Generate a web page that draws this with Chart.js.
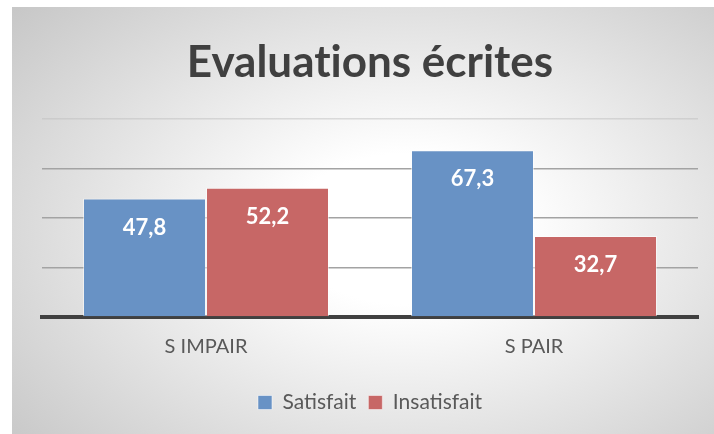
<!DOCTYPE html>
<html lang="fr">
<head>
  <meta charset="UTF-8">
  <title>Evaluations écrites</title>
  <script src="https://cdn.jsdelivr.net/npm/chart.js"></script>
  <style>
    body {
      margin: 0;
      width: 714px;
      height: 434px;
      overflow: hidden;
      position: relative;
      background: #fff;
    }
    .bg {
      position: absolute;
      left: 12px;
      top: 7px;
      width: 702px;
      height: 427px;
      background: radial-gradient(ellipse 75% 80% at 56% 52%, #ffffff 0%, #ffffff 22%, #c6c6c6 100%);
    }
    #chart {
      position: absolute;
      left: 0;
      top: 0;
    }
  </style>
</head>
<body>
  <div class="bg"></div>
  <canvas id="chart" width="714" height="434"></canvas>

  <script>
    const categories = ["S IMPAIR", "S PAIR"];
    const satisfait = [47.8, 67.3];
    const insatisfait = [52.2, 32.7];
    const yMax = 80;
    const yStep = 20;

    const fmt = v => v.toFixed(1).replace(".", ",");

    // white value labels inside the top of each bar
    const valueLabels = {
      id: "valueLabels",
      afterDatasetsDraw(chart) {
        const ctx = chart.ctx;
        ctx.save();
        ctx.font = "bold 22px Lato";
        ctx.fillStyle = "#ffffff";
        ctx.textAlign = "center";
        ctx.textBaseline = "middle";
        chart.data.datasets.forEach((ds, i) => {
          chart.getDatasetMeta(i).data.forEach((bar, j) => {
            ctx.fillText(fmt(ds.data[j]), bar.x, bar.y + 29);
          });
        });
        ctx.restore();
      }
    };

    new Chart(document.getElementById("chart"), {
      type: "bar",
      data: {
        labels: categories,
        datasets: [
          { label: "Satisfait", data: satisfait, backgroundColor: "#6892c5", borderColor: "rgba(255,255,255,0.5)", borderWidth: 1 },
          { label: "Insatisfait", data: insatisfait, backgroundColor: "#c76766", borderColor: "rgba(255,255,255,0.5)", borderWidth: 1 }
        ]
      },
      options: {
        responsive: false,
        animation: false,
        layout: { padding: { left: 42, right: 16, top: 0, bottom: 11 } },
        datasets: { bar: { categoryPercentage: 0.75, barPercentage: 1.0 } },
        plugins: {
          title: {
            display: true,
            // zero-width non-joiners keep "ti" from turning into a ligature
            text: "Evaluat\u200Cions écrit\u200Ces",
            color: "#404040",
            font: { family: "Lato", weight: "bold", size: 44 },
            padding: { top: 36, bottom: 30 }
          },
          legend: {
            position: "bottom",
            labels: {
              color: "#595959",
              font: { family: "Lato", size: 21 },
              boxWidth: 14,
              boxHeight: 14,
              padding: 12
            }
          },
          tooltip: { enabled: false }
        },
        scales: {
          x: {
            grid: { display: false, drawTicks: false },
            border: { color: "#404040", width: 4 },
            ticks: { color: "#595959", font: { family: "Lato", size: 20 }, padding: 18 },
            afterFit: scale => { scale.height = 63; }
          },
          y: {
            min: 0,
            max: yMax,
            ticks: { display: false, stepSize: yStep },
            border: { display: false },
            grid: {
              drawTicks: false,
              lineWidth: 1.5,
              color: c => c.tick.value === yMax ? "rgba(190,190,190,0.5)" : (c.tick.value === 0 ? "rgba(0,0,0,0)" : "#a3a3a3")
            }
          }
        }
      },
      plugins: [valueLabels]
    });
  </script>
</body>
</html>
